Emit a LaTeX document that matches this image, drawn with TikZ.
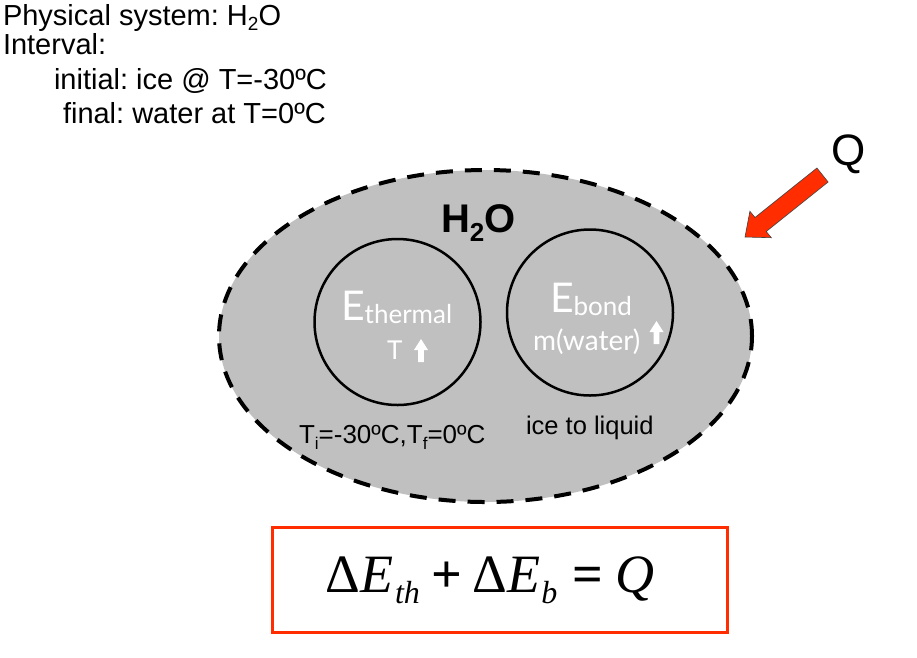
\documentclass[tikz,border=0pt]{standalone}
\usepackage{fontspec}
\setmainfont{Liberation Sans}
\newfontfamily\gillf{Lato}
\newfontfamily\serf{Liberation Serif}
\usetikzlibrary{shapes.geometric}
\definecolor{boxred}{RGB}{255,45,0}
\definecolor{sysgray}{RGB}{192,192,192}
\newcommand\fsz[1]{\fontsize{#1}{#1}\selectfont}
\newcommand\lowsub[3]{\raisebox{-#1pt}{\fsz{#2}#3}}
\frenchspacing
\begin{document}
\begin{tikzpicture}[x=1pt,y=-1pt,
  txt/.style={inner sep=0pt, outer sep=0pt, anchor=base west},
  whitetxt/.style={txt, text=white, font=\gillf},
  energycircle/.style={circle, draw=black, line width=2.5pt, minimum size=166pt, inner sep=0pt},
  uparr/.pic={\fill[white] (0,0) -- (7,11) -- (2.8,11) -- (2.8,23) -- (-2.8,23) -- (-2.8,11) -- (-7,11) -- cycle;}]
\useasboundingbox (0,0) rectangle (917,657);
% header text
\node[txt] (l1) at (3,25) {\fsz{29}Physical system: H\lowsub{5}{19}{2}O};
\node[txt] (l2) at (3,54) {\fsz{29}Interval:};
\node[txt] (l3) at (54,89) {\fsz{29}initial: ice @ T=-30ºC};
\node[txt] (l4) at (63,123) {\fsz{29}final: water at T=0ºC};
% system
\node[ellipse, draw=black, fill=sysgray, line width=4pt, dash pattern=on 17pt off 12pt,
      minimum width=533pt, minimum height=332pt, inner sep=0pt] (sys) at (485.5,336) {};
\node[txt] (h2o) at (441,232) {\fsz{40}\bfseries H\lowsub{9}{26}{2}O};
\node[energycircle] (eth) at (397.5,322) {};
\node[energycircle] (eb) at (590,312.5) {};
\node[whitetxt] (ethl) at (341,320) {\fsz{41}E\raisebox{-3pt}{\fsz{26}thermal}};
\node[whitetxt] (tl) at (387,359) {\fsz{26}T};
\pic at (421,339) {uparr};
\node[whitetxt] (ebl) at (550,312) {\fsz{41}E\raisebox{-3pt}{\fsz{26}bond}};
\node[whitetxt] (mw) at (533,350) {\fsz{28}m(water)};
\pic at (656.5,321) {uparr};
\node[txt] (tlab) at (299,443) {\fsz{26}T\lowsub{6}{17}{i}=-30ºC,T\lowsub{6}{17}{f}=0ºC};
\node[txt] (blab) at (526,434) {\fsz{25.5}ice to liquid};
% heat
\node[txt] (q) at (831,165) {\fsz{44}Q};
\draw[fill=boxred, draw=black!75, line width=0.6pt]
  (745,237) -- (771.3,237.7) -- (766.2,231.5) -- (828.1,182) -- (816.9,168)
  -- (755,217.5) -- (749.9,211.3) -- cycle;
% equation
\node[draw=boxred, line width=3pt, minimum width=455pt, minimum height=105pt, inner sep=0pt] (eqbox) at (499.5,579.5) {};
\node[inner sep=0pt, anchor=base] (eq) at (490,592)
  {\serf\fsz{54}Δ\textit{E}\lowsub{11}{32}{\hspace{1.5pt}\textit{th}}\hspace{12pt}\textbf{+}\hspace{10pt}Δ\textit{E}\lowsub{11}{32}{\hspace{1pt}\textit{b}}\hspace{15pt}\textbf{=}\hspace{12pt}\textit{Q}};
\end{tikzpicture}
\end{document}
